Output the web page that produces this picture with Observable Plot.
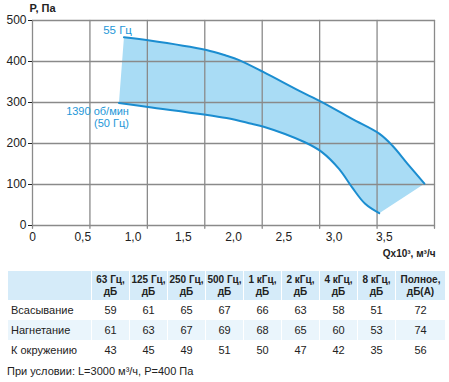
<!DOCTYPE html>
<html>
<head>
<meta charset="utf-8">
<script src="https://cdn.jsdelivr.net/npm/d3@7"></script>
<script src="https://cdn.jsdelivr.net/npm/@observablehq/plot@0.6"></script>
<style>
  html, body { margin: 0; padding: 0; background: #fff; }
  body { width: 449px; font-family: "Liberation Sans", Arial, sans-serif; color: #222; }
  svg { display: block; }
  table { margin: 9px 0 0 7px; border-collapse: separate; border-spacing: 1px 0; width: 434px; table-layout: fixed; font-size: 11px; }
  th { background: #d5ebf9; font-weight: bold; font-size: 10px; line-height: 12px; height: 29px; padding: 0; text-align: center; color: #222; }
  td { height: 20px; padding: 0; text-align: center; }
  td.lbl { text-align: left; padding-left: 3px; }
  tr.alt td { background: #eaf5fc; }
  .foot { margin: 5px 0 0 7px; font-size: 11px; }
</style>
</head>
<body>
<div id="chart"></div>
<div id="table"></div>
<div class="foot" id="foot"></div>
<script>
// Curve 55 Hz (upper)
const upperQ = [0.91, 1.15, 1.73, 1.93, 2.05, 2.30, 2.65, 2.88, 3.18, 3.45, 3.58, 3.73, 3.90];
const upperP = [459, 452, 428, 414, 404, 374, 329, 301, 260, 224, 195, 151, 102];
// Curve 1390 rpm / 50 Hz (lower)
const lowerQ = [0.86, 1.15, 1.93, 2.18, 2.30, 2.71, 2.88, 3.05, 3.18, 3.31, 3.45];
const lowerP = [299, 289, 262, 248, 241, 203, 179, 138, 93, 53, 30];

const xTicks = [0, 0.5, 1.0, 1.5, 2.0, 2.5, 3.0, 3.5];
const yTicks = [0, 100, 200, 300, 400, 500];
const gridCount = 7;
const curveLabels = ["55 Гц", "1390 об/мин\n(50 Гц)"];
const yTitle = "P, Па";
const xTitle = "Qx10³, м³/ч";

const tableHeaders = ["63 Гц,\nдБ", "125 Гц,\nдБ", "250 Гц,\nдБ", "500 Гц,\nдБ", "1 кГц,\nдБ", "2 кГц,\nдБ", "4 кГц,\nдБ", "8 кГц,\nдБ", "Полное,\nдБ(А)"];
const rowNames = ["Всасывание", "Нагнетание", "К окружению"];
const rowSuction = [59, 61, 65, 67, 66, 63, 58, 51, 72];
const rowDischarge = [61, 63, 67, 69, 68, 65, 60, 53, 74];
const rowAmbient = [43, 45, 49, 51, 50, 47, 42, 35, 56];
const footText = "При условии: L=3000 м³/ч, P=400 Па";

const upper = upperQ.map((q, i) => ({q, p: upperP[i]}));
const lower = lowerQ.map((q, i) => ({q, p: lowerP[i]}));
const poly = upper.concat(lower.slice().reverse());
const xDomain = [0, 4];
const yDomain = [0, 500];
const tickExt = -7; // grid verticals run a little below the zero line, as ticks
const gridValues = d3.range(gridCount + 1).map(i => i * xDomain[1] / gridCount);
const gridSegs = [
  ...gridValues.flatMap((x, i) => [{x, y: tickExt, id: "v" + i}, {x, y: yDomain[1], id: "v" + i}]),
  ...yTicks.flatMap((y, i) => [{x: xDomain[0], y, id: "h" + i}, {x: xDomain[1], y, id: "h" + i}])
];

const blue = "#1b8dd0";
const gridColor = "#8a8a8a";

const chart = Plot.plot({
  width: 449,
  height: 262,
  marginLeft: 32,
  marginRight: 15,
  marginTop: 20,
  marginBottom: 37,
  x: {domain: xDomain},
  y: {domain: yDomain},
  style: {fontFamily: "Liberation Sans, Arial, sans-serif", fontSize: "12px", color: "#222"},
  marks: [
    Plot.line(poly, {x: "q", y: "p", fill: "#a9dcf5", stroke: "none"}),
    Plot.line(gridSegs, {x: "x", y: "y", z: "id", stroke: gridColor, strokeWidth: 1.3}),
    Plot.line(upper, {x: "q", y: "p", stroke: blue, strokeWidth: 2, curve: "catmull-rom"}),
    Plot.line(lower, {x: "q", y: "p", stroke: blue, strokeWidth: 2, curve: "catmull-rom"}),
    Plot.axisY({ticks: yTicks, tickSize: 4, tickPadding: 2, label: null}),
    Plot.axisX({ticks: xTicks, tickSize: 0, tickPadding: 7, label: null,
      tickFormat: d => d === 0 ? "0" : d.toFixed(1).replace(".", ",")}),
    Plot.text([upper[0]], {x: "q", y: "p", text: () => curveLabels[0], textAnchor: "end", dx: 8, dy: -7, fill: "#1e97d8", fontSize: 11.5}),
    Plot.text([lower[0]], {x: "q", y: "p", text: () => curveLabels[1], textAnchor: "end", lineAnchor: "top", lineHeight: 1.12, dx: 10, dy: 3, fill: "#1e97d8", fontSize: 11}),
    Plot.text([yTitle], {frameAnchor: "top-left", textAnchor: "start", lineAnchor: "middle", dx: -3, dy: -12.5, fontWeight: "bold", fontSize: 11}),
    Plot.text([xTitle], {frameAnchor: "bottom-right", textAnchor: "end", lineAnchor: "middle", dx: 1, dy: 28, fontWeight: "bold", fontSize: 10})
  ]
});
document.getElementById("chart").appendChild(chart);

// Table
const rows = [rowSuction, rowDischarge, rowAmbient];
let html = '<table><colgroup><col style="width:83px">' +
  tableHeaders.slice(0, 8).map(() => '<col style="width:37px">').join("") +
  '<col style="width:49px"></colgroup><thead><tr><th></th>' +
  tableHeaders.map(h => '<th>' + h.replace("\n", "<br>") + '</th>').join("") +
  '</tr></thead><tbody>';
rows.forEach((r, i) => {
  html += '<tr' + (i === 1 ? ' class="alt"' : '') + '><td class="lbl">' + rowNames[i] + '</td>' +
    r.map(v => '<td>' + v + '</td>').join("") + '</tr>';
});
html += '</tbody></table>';
document.getElementById("table").innerHTML = html;
document.getElementById("foot").textContent = footText;
</script>
</body>
</html>
